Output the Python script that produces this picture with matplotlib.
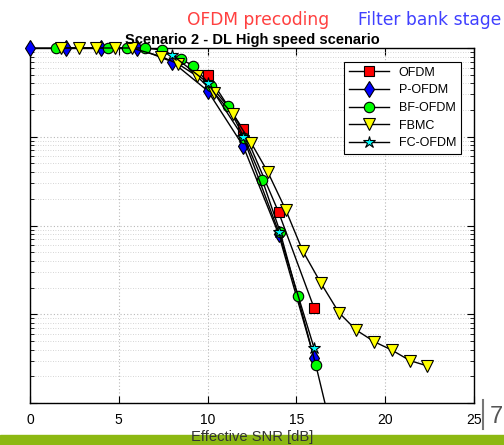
import matplotlib
matplotlib.use("Agg")
import matplotlib.pyplot as plt
from matplotlib.patches import Rectangle
from matplotlib.lines import Line2D

# BLER vs effective SNR
snr_ofdm = [10, 12, 14, 16]
bler_ofdm = [0.50, 0.121, 0.0141, 0.00117]

snr_pofdm = [0, 2, 4, 6, 8, 10, 12, 14, 16]
bler_pofdm = [1.0, 1.0, 1.0, 1.0, 0.70, 0.33, 0.079, 0.0080, 0.00032]

snr_bfofdm = [1.45, 4.4, 5.44, 6.47, 7.45, 8.49, 9.2, 10.2,
              11.15, 12.07, 13.08, 14.08, 15.07, 16.09, 17.0]
bler_bfofdm = [1.0, 1.0, 1.0, 1.0, 0.95, 0.75, 0.63, 0.37,
               0.22, 0.097, 0.0326, 0.0085, 0.0016, 0.00027, 0.000047]

snr_fbmc = [1.73, 2.78, 3.72, 4.79, 5.73, 7.4, 8.35, 9.39, 10.38, 11.41,
            12.44, 13.38, 14.4, 15.35, 16.37, 17.4, 18.36, 19.39, 20.37,
            21.4, 22.34]
bler_fbmc = [1.0, 1.0, 1.0, 1.0, 1.0, 0.80, 0.66, 0.484, 0.309, 0.180,
             0.086, 0.0404, 0.0150, 0.0052, 0.00226, 0.00104, 0.000665,
             0.00049, 0.000395, 0.00030, 0.000263]

snr_fcofdm = [8, 10, 12, 14, 16]
bler_fcofdm = [0.834, 0.406, 0.099, 0.0085, 0.000413]

labels = ["OFDM", "P-OFDM", "BF-OFDM", "FBMC", "FC-OFDM"]
xticks = [0, 5, 10, 15, 20, 25]

series = [
    (snr_ofdm, bler_ofdm, "s", "#ff0000", 6.5),
    (snr_pofdm, bler_pofdm, "d", "#0000ff", 8.5),
    (snr_bfofdm, bler_bfofdm, "o", "#00ff00", 7.5),
    (snr_fbmc, bler_fbmc, "v", "#ffff00", 8),
    (snr_fcofdm, bler_fcofdm, "*", "#00ffff", 9),
]

W, H = 504, 445
fig = plt.figure(figsize=(W / 100, H / 100), dpi=100)
ax = fig.add_axes([30 / W, 1 - 403 / H, 444 / W, 355 / H])

ymin, ymax = 1e-4, 1.0
for (x, y, m, c, ms), lab in zip(series, labels):
    xin = [a for a, b in zip(x, y) if b >= ymin]
    yin = [b for b in y if b >= ymin]
    ax.plot(xin, yin, color="k", lw=1.0, marker=m, mfc=c, mec="k", mew=0.8,
            ms=ms, label=lab, clip_on=False, zorder=3)
    if len(xin) < len(x):
        # part of the curve that leaves the axes: clipped line only
        n = len(xin)
        ax.plot(x[n - 1:], y[n - 1:], color="k", lw=1.0, zorder=2)

ax.set_yscale("log")
ax.set_xlim(0, 25)
ax.set_ylim(ymin, ymax)
ax.set_xticks(xticks)
ax.set_xticklabels([str(t) for t in xticks], family="Liberation Sans", fontsize=10)
ax.tick_params(which="both", direction="in", top=True, right=True,
               labelleft=False)
ax.tick_params(axis="x", pad=7)
ax.tick_params(which="major", length=5, width=0.8)
ax.tick_params(which="minor", length=3, width=0.6)
ax.grid(True, which="major", color="#b8b8b8", linestyle=(0, (1, 2)), lw=0.8)
ax.grid(True, which="minor", axis="y", color="#c8c8c8", linestyle=(0, (1, 2)), lw=0.6)
for s in ax.spines.values():
    s.set_linewidth(1.0)

ax.set_title("Scenario 2 - DL High speed scenario", family="Liberation Sans",
             fontweight="bold", fontsize=10.5, pad=3)

leg = ax.legend(loc="upper right", bbox_to_anchor=(0.971, 0.961),
                borderaxespad=0, fancybox=False, framealpha=1,
                edgecolor="k", handlelength=3.2, labelspacing=0.45,
                prop={"family": "Liberation Sans", "size": 9})
leg.get_frame().set_linewidth(0.8)

# slide decorations around the cropped chart
fig.text(187 / W, 1 - 25 / H, "OFDM precoding", color="#ff4040",
         fontsize=12.3, family="DejaVu Sans", va="baseline")
fig.text(358 / W, 1 - 25 / H, "Filter bank stage", color="#4040ff",
         fontsize=12.3, family="DejaVu Sans", va="baseline")

fig.patches.append(Rectangle((0, 0), 1, 10 / H, transform=fig.transFigure,
                             color="#8cb812", zorder=0))
fig.text(252 / W, 1 - 430 / H, "Effective SNR [dB]", color="#333333",
         fontsize=10.6, family="Liberation Sans", ha="center", va="top")

fig.add_artist(Line2D([483 / W, 483 / W], [1 - 400 / H, 1 - 429 / H],
                      transform=fig.transFigure, color="#777777", lw=1.5))
fig.text(490 / W, 1 - 423 / H, "7", color="#555555", fontsize=17,
         family="Liberation Sans", va="baseline")

fig.savefig("out.png", dpi=100)
